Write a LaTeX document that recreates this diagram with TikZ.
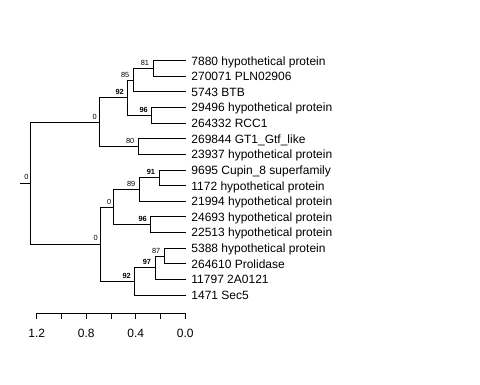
\documentclass[tikz,border=0pt]{standalone}
\usepackage{fontspec}
\setmainfont{Liberation Sans}
\begin{document}
\begin{tikzpicture}[x=1pt,y=-1pt,line width=0.9pt,
  br/.style={draw=black,line cap=rect},
  leaf/.style={anchor=base west,inner sep=0pt,font=\fontsize{12}{12}\selectfont},
  bs/.style={anchor=east,inner sep=0pt,font=\fontsize{7.4}{7.4}\selectfont},
  bsb/.style={anchor=east,inner sep=0pt,font=\fontsize{7.4}{7.4}\selectfont\bfseries},
  ax/.style={anchor=base,inner sep=0pt,font=\fontsize{12}{12}\selectfont}]
\useasboundingbox (0,0) rectangle (480,384);
% leaf tips
\coordinate (t0) at (185.3,60.7);
\coordinate (t1) at (185.3,76.3);
\coordinate (t2) at (185.3,91.9);
\coordinate (t3) at (185.3,107.6);
\coordinate (t4) at (185.3,123.2);
\coordinate (t5) at (185.3,138.8);
\coordinate (t6) at (185.3,154.4);
\coordinate (t7) at (185.3,170.0);
\coordinate (t8) at (185.3,185.7);
\coordinate (t9) at (185.3,201.3);
\coordinate (t10) at (185.3,216.9);
\coordinate (t11) at (185.3,232.5);
\coordinate (t12) at (185.3,248.1);
\coordinate (t13) at (185.3,263.8);
\coordinate (t14) at (185.3,279.4);
\coordinate (t15) at (185.3,295.0);
% internal nodes
\coordinate (n81) at (153,68.5);
\coordinate (n85) at (133.3,80.2);
\coordinate (n96a) at (151.7,115.4);
\coordinate (n92a) at (127.7,97.8);
\coordinate (n80) at (138.3,146.6);
\coordinate (nA) at (99.3,122.2);
\coordinate (n91) at (159,177.9);
\coordinate (n89) at (139.3,189.6);
\coordinate (n96b) at (150.7,224.7);
\coordinate (nC) at (113.7,207.2);
\coordinate (n87) at (164.3,256);
\coordinate (n97) at (155,267.7);
\coordinate (n92b) at (134.7,281.4);
\coordinate (nD) at (100.3,244.3);
\coordinate (root) at (30.7,183.3);
\coordinate (stub) at (20.7,183.3);
% branches
\draw[br] (n81) |- (t0); \draw[br] (n81) |- (t1);
\draw[br] (n85) |- (n81); \draw[br] (n85) |- (t2);
\draw[br] (n96a) |- (t3); \draw[br] (n96a) |- (t4);
\draw[br] (n92a) |- (n85); \draw[br] (n92a) |- (n96a);
\draw[br] (n80) |- (t5); \draw[br] (n80) |- (t6);
\draw[br] (nA) |- (n92a); \draw[br] (nA) |- (n80);
\draw[br] (n91) |- (t7); \draw[br] (n91) |- (t8);
\draw[br] (n89) |- (n91); \draw[br] (n89) |- (t9);
\draw[br] (n96b) |- (t10); \draw[br] (n96b) |- (t11);
\draw[br] (nC) |- (n89); \draw[br] (nC) |- (n96b);
\draw[br] (n87) |- (t12); \draw[br] (n87) |- (t13);
\draw[br] (n97) |- (n87); \draw[br] (n97) |- (t14);
\draw[br] (n92b) |- (n97); \draw[br] (n92b) |- (t15);
\draw[br] (nD) |- (nC); \draw[br] (nD) |- (n92b);
\draw[br] (root) |- (nA); \draw[br] (root) |- (nD);
\draw[br] (stub) -- (root);
% support labels
\node[bs] (s81) at (149.5,63) {81};
\node[bs] (s85) at (129.8,74.7) {85};
\node[bsb] (s96a) at (148.2,109.9) {96};
\node[bsb] (s92a) at (124.2,92.3) {92};
\node[bs] (s80) at (134.8,141.1) {80};
\node[bs] (sA) at (97.3,116.7) {0};
\node[bsb] (s91) at (155.5,172.4) {91};
\node[bs] (s89) at (135.8,184.1) {89};
\node[bsb] (s96b) at (147.2,219.2) {96};
\node[bs] (sC) at (111.7,201.7) {0};
\node[bs] (s87) at (160.8,250.5) {87};
\node[bsb] (s97) at (151.5,262.2) {97};
\node[bsb] (s92b) at (131.2,275.9) {92};
\node[bs] (sD) at (98.3,238.3) {0};
\node[bs] (sR) at (28.9,177.3) {0};
% leaf labels
\node[leaf] (L0) at (191,65.0) {7880 hypothetical protein};
\node[leaf] (L1) at (191,80.6) {270071 PLN02906};
\node[leaf] (L2) at (191,96.2) {5743 BTB};
\node[leaf] (L3) at (191,111.9) {29496 hypothetical protein};
\node[leaf] (L4) at (191,127.5) {264332 RCC1};
\node[leaf] (L5) at (191,143.1) {269844 GT1\_Gtf\_like};
\node[leaf] (L6) at (191,158.7) {23937 hypothetical protein};
\node[leaf] (L7) at (191,174.3) {9695 Cupin\_8 superfamily};
\node[leaf] (L8) at (191,190.0) {1172 hypothetical protein};
\node[leaf] (L9) at (191,205.6) {21994 hypothetical protein};
\node[leaf] (L10) at (191,221.2) {24693 hypothetical protein};
\node[leaf] (L11) at (191,236.8) {22513 hypothetical protein};
\node[leaf] (L12) at (191,252.4) {5388 hypothetical protein};
\node[leaf] (L13) at (191,268.1) {264610 Prolidase};
\node[leaf] (L14) at (191,283.7) {11797 2A0121};
\node[leaf] (L15) at (191,299.3) {1471 Sec5};
% scale axis
\coordinate (a0) at (185.3,313.3);
\coordinate (a6) at (36.7,313.3);
\draw[br] (a6) -- (a0);
\foreach \k in {0,...,6} {
  \draw[br] ({185.3-24.77*\k},313.3) -- ({185.3-24.77*\k},318.3);
}
\node[ax] (x12) at (36.7,337.3) {1.2};
\node[ax] (x08) at (86.2,337.3) {0.8};
\node[ax] (x04) at (135.8,337.3) {0.4};
\node[ax] (x00) at (185.3,337.3) {0.0};
\end{tikzpicture}
\end{document}
